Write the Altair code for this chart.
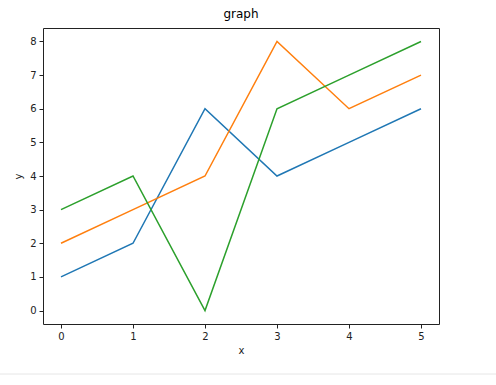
import altair as alt
import pandas as pd

xs = [0, 1, 2, 3, 4, 5]
blue = [1, 2, 6, 4, 5, 6]
orange = [2, 3, 4, 8, 6, 7]
green = [3, 4, 0, 6, 7, 8]
series_names = ["a", "b", "c"]
colors = ["#1f77b4", "#ff7f0e", "#2ca02c"]

rows = []
for name, vals in zip(series_names, [blue, orange, green]):
    for x, v in zip(xs, vals):
        rows.append({"x": x, "y": v, "s": name})
df = pd.DataFrame(rows)

font = "DejaVu Sans"

lines = alt.Chart(df).mark_line(strokeWidth=1.5, clip=True).encode(
    x=alt.X("x:Q", scale=alt.Scale(domain=[-0.25, 5.25], nice=False, zero=False),
            axis=alt.Axis(values=xs, title="x", grid=False, tickSize=4, labelPadding=3,
                          titlePadding=4, domain=False, format="d")),
    y=alt.Y("y:Q", scale=alt.Scale(domain=[-0.4, 8.4], nice=False, zero=False),
            axis=alt.Axis(values=list(range(0, 9)), title="y", grid=False, tickSize=4,
                          labelPadding=3, titlePadding=6, domain=False, format="d")),
    color=alt.Color("s:N", scale=alt.Scale(domain=series_names, range=colors), legend=None),
)

sep = alt.Chart(pd.DataFrame({"a": [0]})).mark_rule(color="#e6e6e6", strokeWidth=1, clip=False).encode(
    x=alt.value(-43), x2=alt.value(453), y=alt.value(346)
)

chart = alt.layer(lines, sep).properties(
    width=396, height=296,
    title=alt.TitleParams("graph", fontSize=12, font=font, fontWeight="normal", color="#000", offset=7),
    autosize=alt.AutoSizeParams(type="none"),
    padding={"left": 43, "top": 28, "right": 57, "bottom": 61},
).configure_view(stroke="#222", strokeWidth=1).configure_axis(
    labelFont=font, titleFont=font, labelFontSize=10, titleFontSize=10,
    labelColor="#222", titleColor="#222", tickColor="#222", titleFontWeight="normal"
)

chart.save("out.html", embed_options={"renderer": "svg", "actions": False})
